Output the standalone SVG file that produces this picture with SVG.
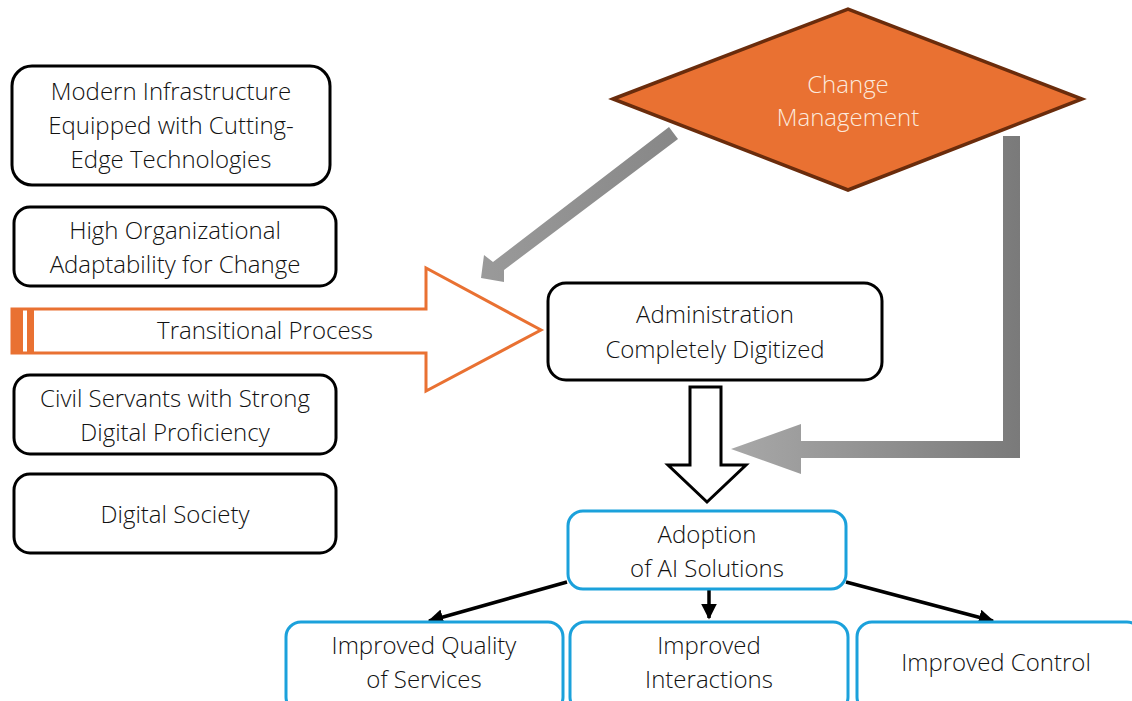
<svg xmlns="http://www.w3.org/2000/svg" width="1132" height="701" viewBox="0 0 1132 701">
  <style>
    text { font-family: "Open Sans", "Liberation Sans", sans-serif; font-weight: 300; font-size: 24px; fill: #111111; text-anchor: middle; }
    .box { fill: #ffffff; stroke: #000000; stroke-width: 3; }
    .blue { fill: #ffffff; stroke: #1BA1DB; stroke-width: 3; }
    .link { stroke: #000000; stroke-width: 3.5; fill: none; marker-end: url(#head); }
    .light { fill: #FCE9DC; }
  </style>
  <defs>
    <marker id="head" viewBox="0 0 10 10" refX="9" refY="5" markerWidth="4.5" markerHeight="4.5" orient="auto" markerUnits="strokeWidth">
      <path d="M0,0 L10,5 L0,10 Z" fill="#000000"/>
    </marker>
    <linearGradient id="grayDiag" x1="0" y1="0" x2="1" y2="0">
      <stop offset="0" stop-color="#9A9A9A"/>
      <stop offset="1" stop-color="#878787"/>
    </linearGradient>
    <linearGradient id="grayElbow" x1="731" y1="0" x2="1020" y2="0" gradientUnits="userSpaceOnUse">
      <stop offset="0" stop-color="#A8A8A8"/>
      <stop offset="1" stop-color="#7A7A7A"/>
    </linearGradient>
  </defs>

  <rect width="1132" height="701" fill="#ffffff"/>

  <!-- connectors -->
  <g id="connectors">
    <!-- transitional process block arrow -->
    <path d="M12,309 H426 V268 L541,330 L426,391 V353 H12 Z" fill="#ffffff" stroke="#E97132" stroke-width="3"/>
    <rect x="12" y="309" width="11" height="44" fill="#E97132"/>
    <rect x="27" y="309" width="7" height="44" fill="#E97132"/>
    <text x="265" y="339">Transitional Process</text>

    <!-- change management to transitional process -->
    <path d="M669,127 L678,139 L504,270 L504,282 L481,278 L484,255 L493,262 Z" fill="url(#grayDiag)"/>

    <!-- change management to AI adoption -->
    <path d="M1003,136 H1020 V458 H801 V474 L731,449 L801,424 V441 H1003 Z" fill="url(#grayElbow)"/>

    <!-- administration to AI adoption -->
    <path d="M690,387 H721 V465 H746 L707,502 L668,465 H690 Z" fill="#ffffff" stroke="#000000" stroke-width="3"/>

    <!-- AI adoption to outcomes -->
    <line class="link" x1="567" y1="582" x2="429" y2="621"/>
    <line class="link" x1="709" y1="589" x2="709" y2="618"/>
    <line class="link" x1="846" y1="582" x2="993" y2="621"/>
  </g>

  <g id="infrastructure">
    <rect class="box" x="12" y="66" width="318" height="119" rx="20"/>
    <text x="171" y="100">Modern Infrastructure</text>
    <text x="171" y="134">Equipped with Cutting-</text>
    <text x="171" y="168">Edge Technologies</text>
  </g>

  <g id="adaptability">
    <rect class="box" x="14" y="207" width="322" height="79" rx="16"/>
    <text x="175" y="239">High Organizational</text>
    <text x="175" y="273">Adaptability for Change</text>
  </g>

  <g id="civil-servants">
    <rect class="box" x="14" y="375" width="322" height="79" rx="16"/>
    <text x="175" y="407">Civil Servants with Strong</text>
    <text x="175" y="441">Digital Proficiency</text>
  </g>

  <g id="digital-society">
    <rect class="box" x="14" y="474" width="322" height="79" rx="16"/>
    <text x="175" y="523">Digital Society</text>
  </g>

  <g id="change-management">
    <path d="M613,99 L848,9 L1082,99 L848,190 Z" fill="#E97132" stroke="#6A2C0C" stroke-width="3.5" stroke-linejoin="miter"/>
    <text class="light" x="848" y="93">Change</text>
    <text class="light" x="848" y="126">Management</text>
  </g>

  <g id="administration">
    <rect class="box" x="548" y="283" width="334" height="97" rx="18"/>
    <text x="715" y="323">Administration</text>
    <text x="715" y="358">Completely Digitized</text>
  </g>

  <g id="ai-adoption">
    <rect class="blue" x="568" y="511" width="278" height="78" rx="15"/>
    <text x="707" y="543">Adoption</text>
    <text x="707" y="577">of AI Solutions</text>
  </g>

  <g id="quality">
    <rect class="blue" x="286" y="622" width="277" height="90" rx="15"/>
    <text x="424" y="654">Improved Quality</text>
    <text x="424" y="688">of Services</text>
  </g>

  <g id="interactions">
    <rect class="blue" x="570" y="622" width="278" height="90" rx="15"/>
    <text x="709" y="654">Improved</text>
    <text x="709" y="688">Interactions</text>
  </g>

  <g id="control">
    <rect class="blue" x="857" y="622" width="285" height="90" rx="15"/>
    <text x="996" y="671">Improved Control</text>
  </g>
</svg>
